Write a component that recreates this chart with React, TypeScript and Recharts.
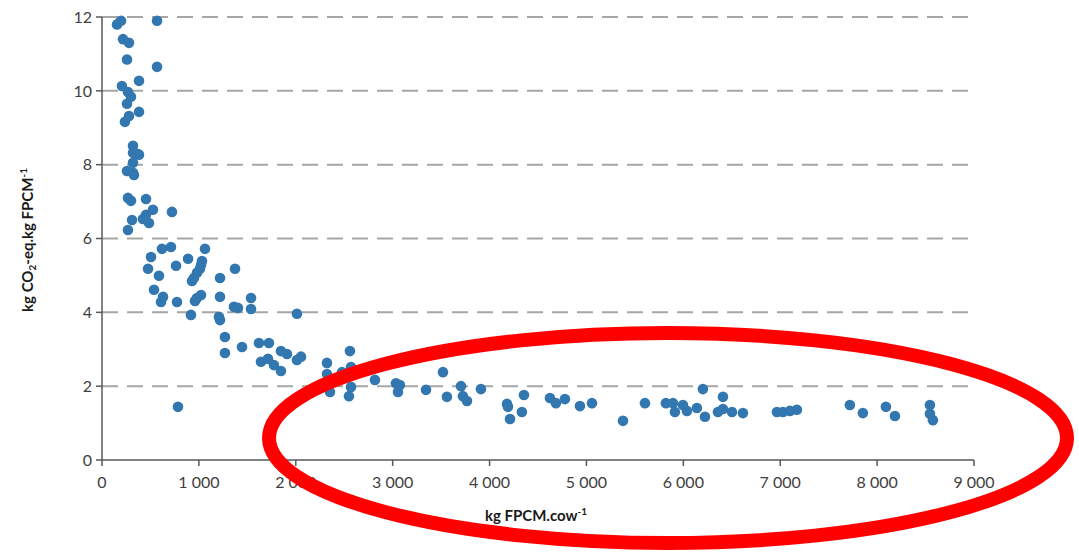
import { ScatterChart, Scatter, XAxis, YAxis, CartesianGrid } from 'recharts';

// milk production per cow (kg FPCM/cow) vs carbon footprint (kg CO2-eq/kg FPCM)
const milkPerCow = [
  155, 196, 568, 217, 279, 258, 568, 382, 206, 268, 299, 258, 382, 279, 237,
  320, 372, 320, 382, 320, 258, 320, 330, 268, 299, 454, 526, 722, 454, 423,
  310, 485, 268, 712, 619, 1063, 506, 888, 1032, 1022, 764, 475, 1373, 1011, 980,
  588, 949, 929, 1218, 537, 630, 1022, 980, 1218, 609, 774, 960, 1538, 1362, 1403,
  1538, 918, 1207, 1218, 1269, 1445, 1269, 1620, 1723, 1847, 1909, 1641, 1713, 1775, 1847,
  784, 2012, 2012, 2054, 2322, 2559, 2322, 2477, 2570, 2353, 2570, 2549, 2817, 3034, 3075,
  3055, 3344, 3519, 3560, 3705, 3725, 3767, 3911, 4180, 4190, 4211, 4334, 4355, 4623, 4685,
  4778, 4933, 5057, 5377, 5604, 5820, 5893, 5913, 5996, 6037, 6140, 6202, 6223, 6357, 6409,
  6409, 6502, 6615, 6966, 7028, 7100, 7172, 7719, 7853, 8091, 8184, 8545, 8545, 8576,
];
const footprint = [
  11.8, 11.9, 11.9, 11.4, 11.3, 10.85, 10.65, 10.27, 10.13, 9.97, 9.84, 9.65, 9.43, 9.32, 9.16,
  8.51, 8.29, 8.32, 8.27, 8.05, 7.83, 7.78, 7.72, 7.1, 7.02, 7.07, 6.78, 6.72, 6.64, 6.53,
  6.5, 6.42, 6.23, 5.77, 5.72, 5.72, 5.5, 5.45, 5.39, 5.28, 5.26, 5.18, 5.18, 5.18, 5.07,
  4.99, 4.93, 4.85, 4.93, 4.61, 4.42, 4.47, 4.39, 4.42, 4.28, 4.28, 4.31, 4.39, 4.15, 4.12,
  4.09, 3.93, 3.88, 3.79, 3.33, 3.06, 2.9, 3.17, 3.17, 2.95, 2.87, 2.66, 2.74, 2.57, 2.41,
  1.44, 3.96, 2.71, 2.8, 2.63, 2.95, 2.33, 2.38, 2.52, 1.84, 1.98, 1.73, 2.17, 2.08, 2.03,
  1.84, 1.9, 2.38, 1.71, 2.0, 1.73, 1.6, 1.92, 1.52, 1.44, 1.11, 1.3, 1.76, 1.68, 1.54,
  1.65, 1.46, 1.54, 1.06, 1.54, 1.54, 1.54, 1.3, 1.49, 1.33, 1.41, 1.92, 1.17, 1.3, 1.71,
  1.38, 1.3, 1.27, 1.3, 1.3, 1.33, 1.36, 1.49, 1.27, 1.44, 1.19, 1.49, 1.25, 1.08,
];
const xTicks = [0, 1000, 2000, 3000, 4000, 5000, 6000, 7000, 8000, 9000];
const yTicks = [0, 2, 4, 6, 8, 10, 12];

const farms = milkPerCow.map((x, i) => ({ x, y: footprint[i] }));

const FONT = 'Lato, "Open Sans", sans-serif';

const fmtThousands = (v: number) =>
  v === 0 ? '0' : `${Math.floor(v / 1000)} ${String(v % 1000).padStart(3, '0')}`;

const Dot = (props: any) => <circle cx={props.cx} cy={props.cy} r={5.3} fill="#3277b0" />;

export default function App() {
  return (
    <div style={{ position: 'absolute', left: 0, top: 0, width: 1079, height: 552, background: '#fff' }}>
      <ScatterChart width={1079} height={552} margin={{ top: 17, right: 105, bottom: 32, left: 0 }}>
        <CartesianGrid
          vertical={false}
          horizontalValues={[2, 4, 6, 8, 10, 12]}
          stroke="#a6a6a6"
          strokeWidth={2}
          strokeDasharray="16 9"
        />
        <XAxis
          type="number"
          dataKey="x"
          domain={[0, 9000]}
          ticks={xTicks}
          tickFormatter={fmtThousands}
          stroke="#595959"
          strokeWidth={1.5}
          tickSize={6}
          height={60}
          tick={{ fill: '#404040', fontSize: 16, fontFamily: FONT, dy: 9 }}
        />
        <YAxis
          type="number"
          dataKey="y"
          domain={[0, 12]}
          ticks={yTicks}
          width={102}
          stroke="#595959"
          strokeWidth={1.5}
          tickSize={6}
          tick={{ fill: '#404040', fontSize: 16, fontFamily: FONT, dx: -2 }}
        />
        <Scatter data={farms} shape={Dot} isAnimationActive={false} />
      </ScatterChart>
      <svg
        width={1079}
        height={552}
        style={{ position: 'absolute', left: 0, top: 0, pointerEvents: 'none' }}
        fontFamily={FONT}
      >
        <text
          transform="translate(33, 240) rotate(-90)"
          textAnchor="middle"
          fontSize={15}
          fontWeight="bold"
          fill="#1a1a1a"
        >
          kg CO<tspan fontSize={10} dy={3}>2</tspan>
          <tspan dy={-3}>-eq.kg FPCM</tspan>
          <tspan fontSize={10} dy={-6}>-1</tspan>
        </text>
        <text x={536} y={521} textAnchor="middle" fontSize={15} fontWeight="bold" fill="#1a1a1a">
          kg FPCM.cow<tspan fontSize={10} dy={-6}>-1</tspan>
        </text>
        <ellipse cx={668} cy={438} rx={399} ry={105} fill="none" stroke="#ff0000" strokeWidth={14} />
      </svg>
    </div>
  );
}
